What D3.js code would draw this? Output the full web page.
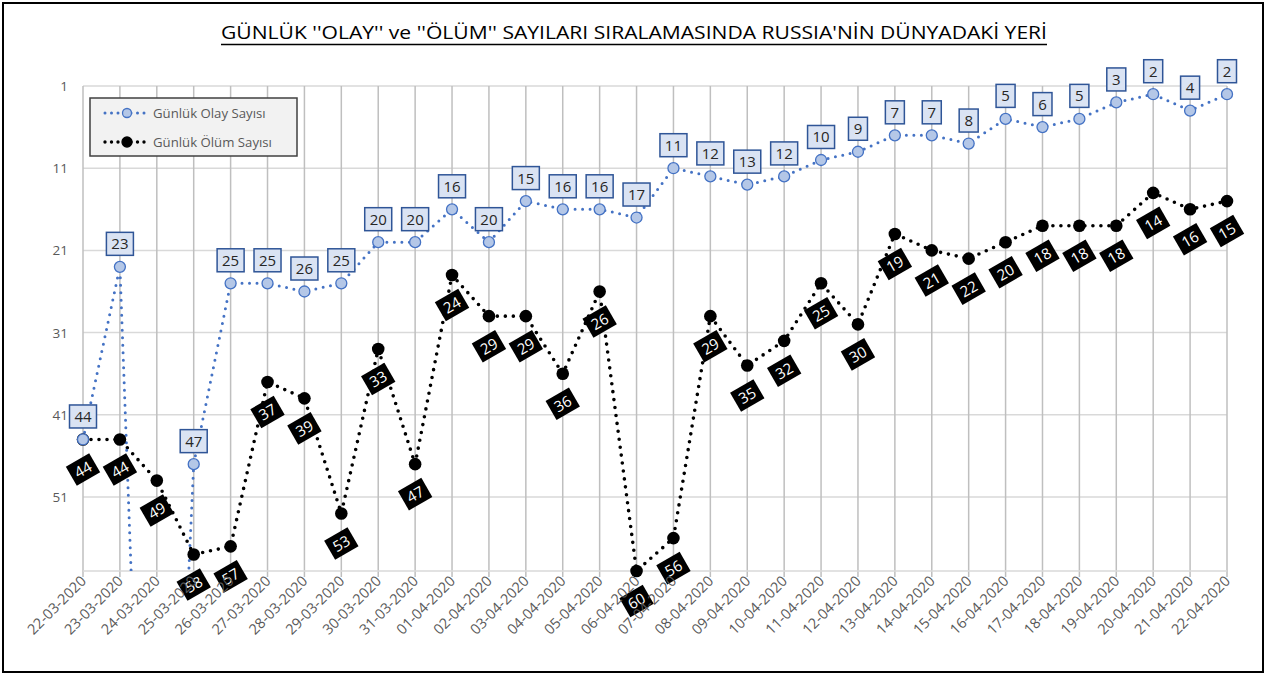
<!DOCTYPE html>
<html><head><meta charset="utf-8">
<script src="https://cdn.jsdelivr.net/npm/d3@7"></script>
<style>body{margin:0;background:#fff}text{font-family:"Open Sans","Noto Sans",sans-serif}</style>
</head><body>
<svg id="c" width="1267" height="675"></svg>
<script>
const title = "GÜNLÜK ''OLAY'' ve ''ÖLÜM'' SAYILARI SIRALAMASINDA RUSSIA'NİN DÜNYADAKİ YERİ";
const dates = ["22-03-2020","23-03-2020","24-03-2020","25-03-2020","26-03-2020","27-03-2020","28-03-2020","29-03-2020","30-03-2020","31-03-2020","01-04-2020","02-04-2020","03-04-2020","04-04-2020","05-04-2020","06-04-2020","07-04-2020","08-04-2020","09-04-2020","10-04-2020","11-04-2020","12-04-2020","13-04-2020","14-04-2020","15-04-2020","16-04-2020","17-04-2020","18-04-2020","19-04-2020","20-04-2020","21-04-2020","22-04-2020"];
// rank of Russia in daily cases (24-03 is off the scale; estimated from the line slope)
const olay = [44,23,145,47,25,25,26,25,20,20,16,20,15,16,16,17,11,12,13,12,10,9,7,7,8,5,6,5,3,2,4,2];
// rank of Russia in daily deaths
const olum = [44,44,49,58,57,37,39,53,33,47,24,29,29,36,26,60,56,29,35,32,25,30,19,21,22,20,18,18,18,14,16,15];
const yTicks = [1,11,21,31,41,51];
const seriesNames = ["Günlük Olay Sayısı","Günlük Ölüm Sayısı"];

const svg = d3.select("#c");
const L = 83, R = 1227, T = 86, B = 571;
const x = d3.scalePoint().domain(dates).range([L, R]);
const y = d3.scaleLinear().domain([1, 60]).range([T, B]);

// outer frame
svg.append("rect").attr("x",3).attr("y",3).attr("width",1260).attr("height",669)
  .attr("fill","#fff").attr("stroke","#000").attr("stroke-width",2);

// title
svg.append("text").attr("x",634).attr("y",39).attr("text-anchor","middle")
  .attr("font-size",18.5).attr("fill","#000").attr("textLength",826).attr("lengthAdjust","spacingAndGlyphs")
  .text(title);
svg.append("line").attr("x1",221).attr("x2",1047).attr("y1",44.5).attr("y2",44.5)
  .attr("stroke","#000").attr("stroke-width",1.4);

// horizontal gridlines
svg.append("g").selectAll("line").data(yTicks).join("line")
  .attr("x1",L).attr("x2",R).attr("y1",d=>y(d)).attr("y2",d=>y(d))
  .attr("stroke","#d9d9d9").attr("stroke-width",1.5);
// vertical gridlines
svg.append("g").selectAll("line").data(dates).join("line")
  .attr("x1",d=>x(d)).attr("x2",d=>x(d)).attr("y1",T).attr("y2",B+6)
  .attr("stroke","#bfbfbf").attr("stroke-width",1.5);
// bottom axis line
svg.append("line").attr("x1",L).attr("x2",R).attr("y1",B).attr("y2",B)
  .attr("stroke","#d9d9d9").attr("stroke-width",1.5);

// y tick labels
svg.append("g").selectAll("text").data(yTicks).join("text")
  .attr("x",68).attr("y",d=>y(d)+5).attr("text-anchor","end")
  .attr("font-size",13.5).attr("fill","#595959").text(d=>d);

// clip
svg.append("clipPath").attr("id","plot").append("rect")
  .attr("x",L-10).attr("y",T-10).attr("width",R-L+20).attr("height",B-T+10);

const line = d3.line().x((d,i)=>x(dates[i])).y(d=>y(d));

const g = svg.append("g").attr("clip-path","url(#plot)");
g.append("path").datum(olum).attr("d",line).attr("fill","none")
  .attr("stroke","#000").attr("stroke-width",3.6).attr("stroke-linecap","round")
  .attr("stroke-dasharray","0 8");
g.append("path").datum(olay).attr("d",line).attr("fill","none")
  .attr("stroke","#4472c4").attr("stroke-width",3).attr("stroke-linecap","round")
  .attr("stroke-dasharray","0 7.5");

const inRange = v => v <= 60;
// markers
svg.append("g").selectAll("circle").data(olum.map((v,i)=>({v,i}))).join("circle")
  .attr("cx",d=>x(dates[d.i])).attr("cy",d=>y(d.v)).attr("r",6.3).attr("fill","#000");
svg.append("g").selectAll("circle").data(olay.map((v,i)=>({v,i})).filter(d=>inRange(d.v))).join("circle")
  .attr("cx",d=>x(dates[d.i])).attr("cy",d=>y(d.v)).attr("r",5.5)
  .attr("fill","#b4c7e7").attr("stroke","#4472c4").attr("stroke-width",1.3);

// olay labels (boxes above)
const lb = svg.append("g").selectAll("g").data(olay.map((v,i)=>({v,i})).filter(d=>inRange(d.v))).join("g")
  .attr("transform",d=>`translate(${x(dates[d.i])},${y(d.v)-23})`);
lb.append("rect").attr("x",d=>String(d.v).length>1?-13.5:-9.5).attr("y",-11.5)
  .attr("width",d=>String(d.v).length>1?27:19).attr("height",23)
  .attr("fill","#dae3f3").attr("stroke","#2f5597").attr("stroke-width",1.5);
lb.append("text").attr("text-anchor","middle").attr("y",5.5).attr("font-size",15).attr("fill","#262626")
  .text(d=>d.v);

// olum labels (rotated black boxes below)
const lk = svg.append("g").selectAll("g").data(olum.map((v,i)=>({v,i}))).join("g")
  .attr("transform",d=>`translate(${x(dates[d.i])},${y(d.v)+30}) rotate(-30)`);
lk.append("rect").attr("x",-13.5).attr("y",-11).attr("width",27).attr("height",22).attr("fill","#000");
lk.append("text").attr("text-anchor","middle").attr("y",5.5).attr("font-size",15).attr("fill","#fff")
  .text(d=>d.v);

// x axis labels
svg.append("g").selectAll("text").data(dates).join("text")
  .attr("transform",d=>`translate(${x(d)+4},${B+11}) rotate(-45)`)
  .attr("text-anchor","end").attr("font-size",14.5).attr("fill","#595959").text(d=>d);

// legend
const lg = svg.append("g");
lg.append("rect").attr("x",90).attr("y",98).attr("width",207).attr("height",58)
  .attr("fill","#f2f2f2").attr("stroke","#404040").attr("stroke-width",1.5);
const rows = [
  {name:seriesNames[0], y:113, color:"#4472c4", w:3, fill:"#b4c7e7", r:4.5},
  {name:seriesNames[1], y:142, color:"#000", w:3.4, fill:"#000", r:5}
];
rows.forEach(rw=>{
  lg.append("line").attr("x1",105).attr("x2",149).attr("y1",rw.y).attr("y2",rw.y)
    .attr("stroke",rw.color).attr("stroke-width",rw.w).attr("stroke-linecap","round").attr("stroke-dasharray","0 6.5");
  lg.append("circle").attr("cx",127).attr("cy",rw.y).attr("r",rw.r).attr("fill",rw.fill)
    .attr("stroke",rw.color).attr("stroke-width",1.3);
  lg.append("text").attr("x",153).attr("y",rw.y+4.5).attr("font-size",13.2).attr("fill","#595959").text(rw.name);
});
</script>
</body></html>
